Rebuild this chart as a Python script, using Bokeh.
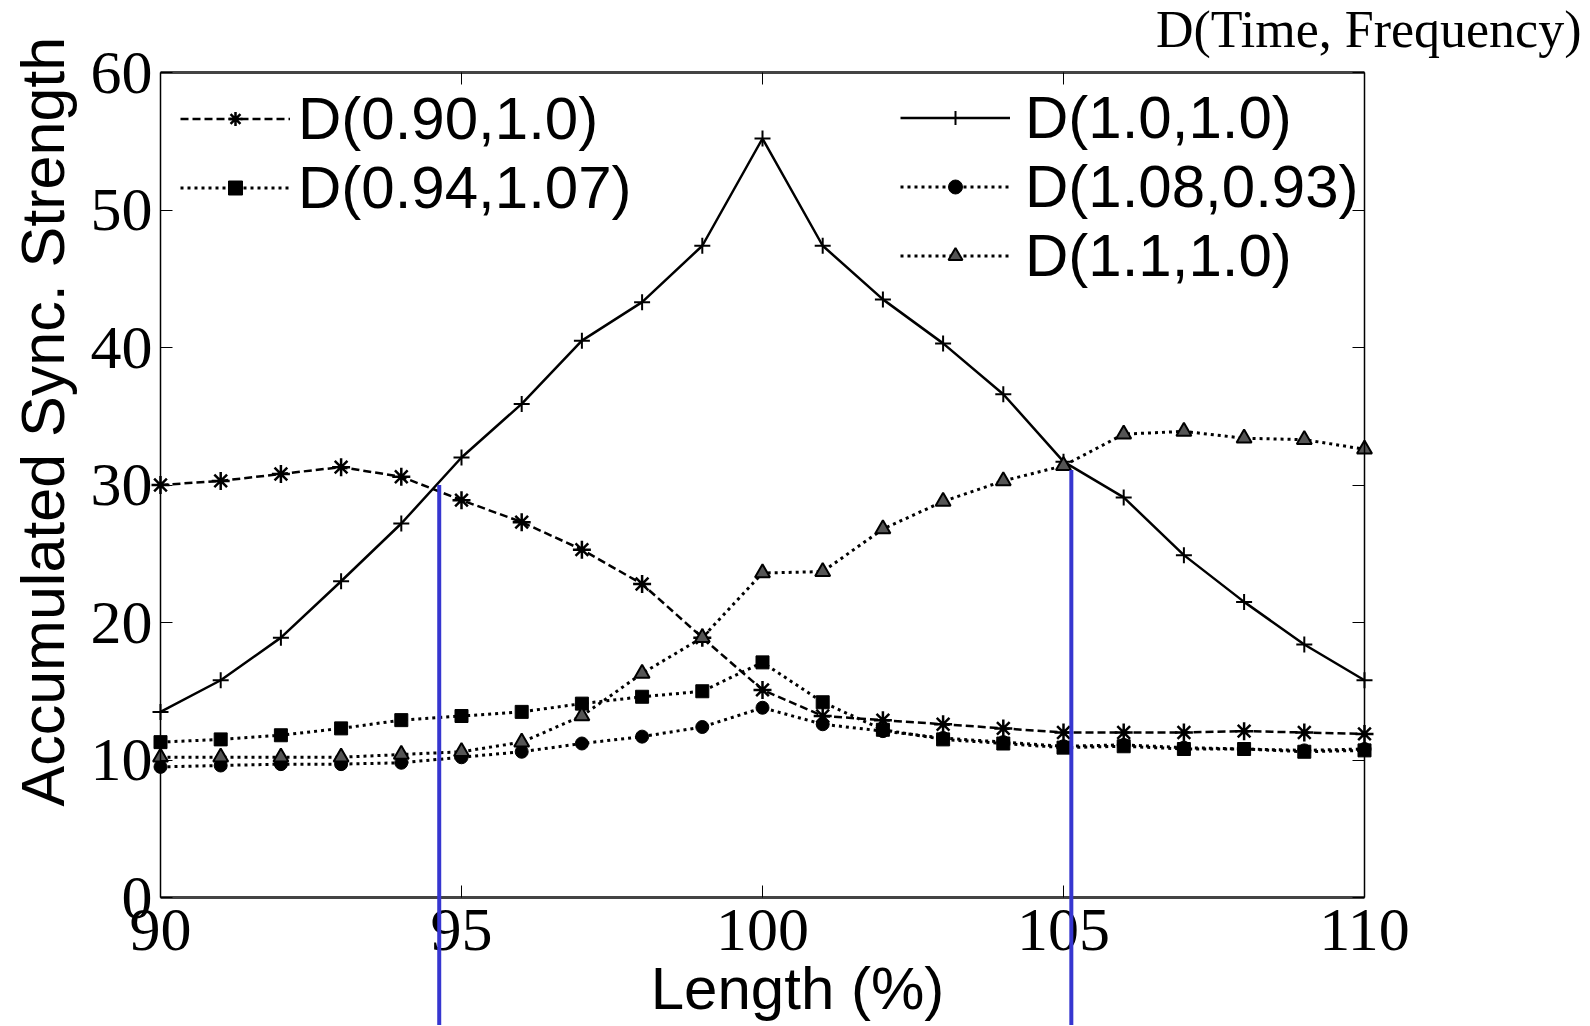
from math import pi
from bokeh.plotting import figure
from bokeh.models import (Range1d, LinearAxis, Legend, LegendItem, Label,
                          FixedTicker, CustomLabelingPolicy)
from bokeh.embed import file_html
from bokeh.resources import INLINE

# ---------------- data ----------------
length_pct = list(range(90, 111))
d_090_10 = [30.0, 30.3, 30.8, 31.3, 30.6, 28.9, 27.3, 25.3, 22.8, 18.9, 15.1,
            13.2, 12.9, 12.6, 12.3, 12.0, 12.0, 12.0, 12.1, 12.0, 11.9]
d_094_107 = [11.3, 11.5, 11.8, 12.3, 12.9, 13.2, 13.5, 14.1, 14.6, 15.0, 17.1,
             14.2, 12.2, 11.5, 11.2, 10.9, 11.0, 10.8, 10.8, 10.6, 10.7]
d_10_10 = [13.5, 15.8, 18.9, 23.0, 27.2, 32.0, 35.9, 40.5, 43.3, 47.4, 55.2,
           47.4, 43.5, 40.3, 36.6, 31.7, 29.1, 24.9, 21.5, 18.4, 15.8]
d_108_093 = [9.5, 9.6, 9.7, 9.7, 9.8, 10.2, 10.6, 11.2, 11.7, 12.4, 13.8,
             12.6, 12.1, 11.6, 11.3, 11.0, 11.1, 10.9, 10.8, 10.7, 10.8]
d_11_10 = [10.2, 10.2, 10.2, 10.2, 10.4, 10.6, 11.3, 13.2, 16.3, 18.9, 23.6,
           23.7, 26.8, 28.8, 30.3, 31.4, 33.7, 33.9, 33.4, 33.3, 32.6]

x_ticks = [90, 95, 100, 105, 110]
y_ticks = [0, 10, 20, 30, 40, 50, 60]
x_lo, x_hi = 90, 110
y_lo, y_hi = 0, 60

marker_x = [94.63, 105.13]
marker_top = [30.0, 31.1]

BLUE = "#3636d0"

# ---------------- geometry ----------------
# The frame fills the whole canvas; the axes are drawn at fixed data
# locations so that the blue markers may run below the x axis.
W, H = 1584, 1025
AX_LEFT, AX_RIGHT, AX_TOP, AX_BOTTOM = 160, 1364, 72, 897
px_x = (AX_RIGHT - AX_LEFT) / (x_hi - x_lo)
px_y = (AX_BOTTOM - AX_TOP) / (y_hi - y_lo)
x_start = x_lo - AX_LEFT / px_x
x_end = x_hi + (W - AX_RIGHT) / px_x
y_start = y_lo - (H - AX_BOTTOM) / px_y
y_end = y_hi + AX_TOP / px_y

p = figure(width=W, height=H, output_backend="svg", toolbar_location=None,
           title=None,
           x_range=Range1d(x_start, x_end), y_range=Range1d(y_start, y_end),
           min_border_left=0, min_border_right=0,
           min_border_top=0, min_border_bottom=0)
p.grid.visible = False
p.outline_line_color = None
p.background_fill_color = "white"
p.border_fill_color = "white"

tick_font = "Liberation Serif"
label_font = "Liberation Sans"
no_labels = CustomLabelingPolicy(code="for (const i of indices) { indices.unset(i) }\nreturn indices")

for ax in p.xaxis:
    ax.fixed_location = y_lo
    ax.bounds = (x_lo, x_hi)
    ax.ticker = FixedTicker(ticks=x_ticks)
    ax.major_label_text_font = tick_font
    ax.major_label_text_font_size = "62px"
    ax.major_label_text_color = "black"
    ax.major_label_standoff = 12
    ax.major_tick_in = 12
    ax.major_tick_out = 0
    ax.minor_tick_line_color = None
    ax.axis_line_color = "#444444"
    ax.axis_line_width = 3
for ax in p.yaxis:
    ax.fixed_location = x_lo
    ax.bounds = (y_lo, y_hi)
    ax.ticker = FixedTicker(ticks=y_ticks)
    ax.major_label_text_font = tick_font
    ax.major_label_text_font_size = "62px"
    ax.major_label_text_color = "black"
    ax.major_label_standoff = 8
    ax.major_tick_in = 12
    ax.major_tick_out = 0
    ax.minor_tick_line_color = None
    ax.axis_line_color = "black"
    ax.axis_line_width = 1.5

# mirrored ticks on top and right (no labels)
top_ax = LinearAxis(fixed_location=y_hi, bounds=(x_lo, x_hi),
                    ticker=FixedTicker(ticks=x_ticks), major_tick_in=12,
                    major_tick_out=0, minor_tick_line_color=None,
                    major_label_policy=no_labels, major_label_standoff=0,
                    major_label_text_font_size="1px",
                    axis_line_color="#444444", axis_line_width=3)
right_ax = LinearAxis(fixed_location=x_hi, bounds=(y_lo, y_hi),
                      ticker=FixedTicker(ticks=y_ticks), major_tick_in=12,
                      major_tick_out=0, minor_tick_line_color=None,
                      major_label_policy=no_labels, major_label_standoff=0,
                      major_label_text_font_size="1px",
                      axis_line_color="black", axis_line_width=1.5)
p.add_layout(top_ax, "above")
p.add_layout(right_ax, "right")

# axis titles and header (screen units measured from the frame's bottom-left)
p.add_layout(Label(x=42, y=H - 806, x_units="screen", y_units="screen",
                   text="Accumulated Sync. Strength", angle=pi / 2,
                   text_font=label_font, text_font_size="61px",
                   text_align="left", text_baseline="alphabetic",
                   text_color="black"))
p.add_layout(Label(x=797, y=H - 1012 + 24, x_units="screen", y_units="screen",
                   text="Length (%)", text_font=label_font, text_font_size="60px",
                   text_align="center", text_baseline="alphabetic",
                   text_color="black"))
p.add_layout(Label(x=1581, y=H - 48 + 19, x_units="screen", y_units="screen",
                   text="D(Time, Frequency)", text_font="Liberation Serif",
                   text_font_size="52px", text_align="right",
                   text_baseline="alphabetic", text_color="black"))

dotted = "3 4"
dashed = "8 4"

r1l = p.line(length_pct, d_090_10, line_color="black", line_width=2.5, line_dash=dashed)
r1m = p.scatter(length_pct, d_090_10, marker="asterisk", size=18, line_color="black",
                line_width=2.5)
r2l = p.line(length_pct, d_094_107, line_color="black", line_width=3, line_dash=dotted)
r2m = p.scatter(length_pct, d_094_107, marker="square", size=13, fill_color="black",
                line_color="black")
r3l = p.line(length_pct, d_10_10, line_color="black", line_width=2.5)
r3m = p.scatter(length_pct, d_10_10, marker="cross", size=16, line_color="black",
                line_width=2)
r4l = p.line(length_pct, d_108_093, line_color="black", line_width=3, line_dash=dotted)
r4m = p.scatter(length_pct, d_108_093, marker="circle", size=13, fill_color="black",
                line_color="black")
r5l = p.line(length_pct, d_11_10, line_color="black", line_width=3, line_dash=dotted)
r5m = p.scatter(length_pct, d_11_10, marker="triangle", size=15, fill_color="#555555",
                line_color="black", line_width=2)


def make_legend(items, loc, standoff):
    return Legend(items=items, location=loc, margin=0, padding=0, spacing=0,
                  glyph_width=110, glyph_height=35, label_height=68,
                  label_standoff=standoff, label_text_font=label_font,
                  label_text_font_size="60px", label_text_color="black",
                  border_line_color=None, background_fill_alpha=0)


below = H - AX_BOTTOM  # legend offsets are measured from the frame bottom
left_legend = make_legend([
    LegendItem(label="D(0.90,1.0)", renderers=[r1l, r1m]),
    LegendItem(label="D(0.94,1.07)", renderers=[r2l, r2m]),
], (AX_LEFT + 20, 675 + below), 8)
right_legend = make_legend([
    LegendItem(label="D(1.0,1.0)", renderers=[r3l, r3m]),
    LegendItem(label="D(1.08,0.93)", renderers=[r4l, r4m]),
    LegendItem(label="D(1.1,1.0)", renderers=[r5l, r5m]),
], (AX_LEFT + 740, 607 + below), 15)
p.add_layout(left_legend)
p.add_layout(right_legend)

# blue vertical markers, from their top value down past the x axis
p.segment(x0=marker_x, y0=[y_start] * len(marker_x), x1=marker_x, y1=marker_top,
          line_color=BLUE, line_width=4, level="overlay")

open("out.html", "w").write(file_html(p, INLINE))
